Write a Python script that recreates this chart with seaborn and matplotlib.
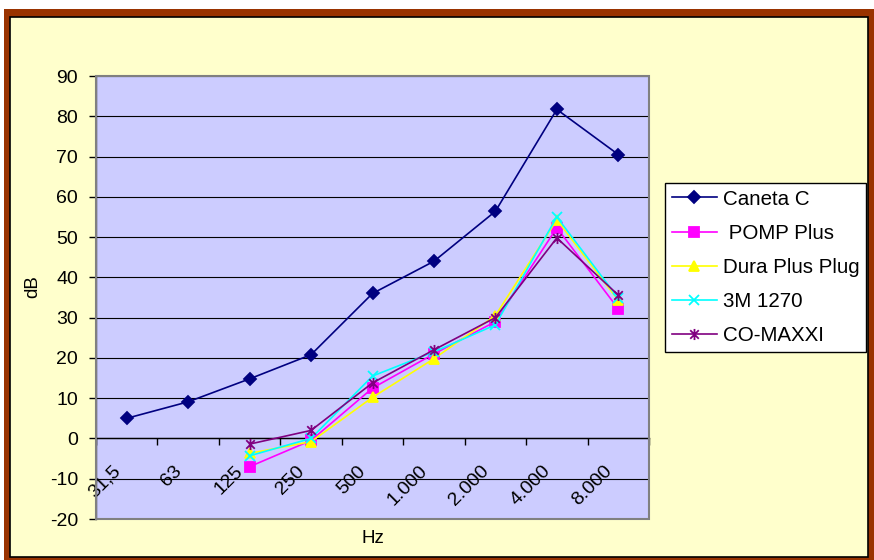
import numpy as np
import pandas as pd
import matplotlib
matplotlib.use("Agg")
import matplotlib.pyplot as plt
import seaborn as sns
from matplotlib.path import Path
from matplotlib.patches import Rectangle
from matplotlib.transforms import ScaledTranslation

# ---- data ----
categories = ['31,5', '63', '125', '250', '500', '1.000', '2.000', '4.000', '8.000']
caneta_c = [5, 9.1, 14.8, 20.8, 36, 44, 56.4, 81.7, 70.5]
pomp_plus = [np.nan, np.nan, -7, -0.5, 12.5, 21, 29, 52.3, 32.2]
dura_plus_plug = [np.nan, np.nan, -3.7, -0.8, 10.2, 19.8, 30.5, 54.3, 34.3]
m3_1270 = [np.nan, np.nan, -4.3, 0, 15.5, 21.5, 28.2, 55, 34.8]
co_maxxi = [np.nan, np.nan, -1.4, 2, 13.8, 22, 30, 49.8, 35.6]
series_names = ['Caneta C', ' POMP Plus', 'Dura Plus Plug', '3M 1270', 'CO-MAXXI']
y_ticks = list(range(-20, 100, 10))

plt.rcParams['font.family'] = ['Liberation Sans', 'DejaVu Sans']

fig = plt.figure(figsize=(8.74, 5.6), dpi=100)
W, H = 874, 560

# chart frame
fig.patches.append(Rectangle((4 / W, 0), (W - 4) / W, (H - 9) / H,
                             transform=fig.transFigure, facecolor='#993300',
                             edgecolor='none', zorder=-10))
fig.patches.append(Rectangle((9.5 / W, 3 / H), (868 - 9.5) / W, (557 - 16.5) / H,
                             transform=fig.transFigure, facecolor='#FFFFCC',
                             edgecolor='black', linewidth=1.2, zorder=-9))

ax = fig.add_axes([96 / W, 41 / H, 553 / W, 443 / H])
ax.set_facecolor('#CCCCFF')

asterisk = Path([(-1, -1), (1, 1), (-1, 1), (1, -1), (0, -1.3), (0, 1.3)],
                [Path.MOVETO, Path.LINETO, Path.MOVETO, Path.LINETO, Path.MOVETO, Path.LINETO])

styles = [
    (caneta_c, '#000080', 'D', 6.5),
    (pomp_plus, '#FF00FF', 's', 6.5),
    (dura_plus_plug, '#FFFF00', '^', 7),
    (m3_1270, '#00FFFF', 'x', 7),
    (co_maxxi, '#800080', asterisk, 8),
]
x_pos = np.arange(len(categories))
for (vals, col, mk, ms), name in zip(styles, series_names):
    df = pd.DataFrame({'x': x_pos, 'y': vals}).dropna()
    sns.lineplot(data=df, x='x', y='y', ax=ax, color=col, marker=mk, markersize=ms,
                 markeredgecolor=col, markerfacecolor=col, markeredgewidth=1.3,
                 linewidth=1.2, label=name, zorder=3)

FS = 14
ax.set_xlim(-0.5, len(categories) - 0.5)
ax.set_ylim(-20, 90)
ax.set_yticks(y_ticks)
ax.set_yticklabels([str(v) for v in y_ticks], fontsize=FS)
ax.tick_params(axis='y', direction='out', length=5, width=1, pad=8, colors='black')
ax.grid(axis='y', color='black', linewidth=0.8, zorder=1)
ax.grid(axis='x', visible=False)
ax.set_axisbelow(True)

for s in ['top', 'right']:
    ax.spines[s].set_visible(False)
ax.spines['left'].set_color('#333333')
ax.spines['left'].set_linewidth(1)
ax.spines['bottom'].set_position(('data', 0))
ax.spines['bottom'].set_color('black')
ax.spines['bottom'].set_linewidth(1)
ax.set_xticks(np.arange(-0.5, len(categories), 1.0))
ax.set_xticklabels([])
ax.tick_params(axis='x', direction='out', length=5, width=1, colors='black')

# plot-area border
ax.add_patch(Rectangle((0, 0), 1, 1, transform=ax.transAxes, fill=False,
                       edgecolor='#808080', linewidth=1.5, clip_on=False, zorder=5))

# rotated category labels
off = ScaledTranslation(-15 / 100, -24 / 100, fig.dpi_scale_trans)
for i, lab in enumerate(categories):
    ax.text(i, 0, lab, transform=ax.transData + off, rotation=45,
            rotation_mode='anchor', ha='right', va='top', fontsize=FS, color='black')

ax.set_xlabel('Hz', fontsize=13.5)
ax.xaxis.set_label_coords(0.5, -0.044)
ax.xaxis.label.set_va('center')
ax.set_ylabel('dB', fontsize=13.5)
ax.yaxis.set_label_coords(-0.115, 0.524)
ax.yaxis.label.set_va('center')

leg = ax.legend(loc='upper left', bbox_to_anchor=(665 / W, (H - 183) / H),
                bbox_transform=fig.transFigure, borderaxespad=0, fontsize=14.8,
                frameon=True, fancybox=False, shadow=False, framealpha=1,
                edgecolor='black', facecolor='white', handlelength=2.2,
                handletextpad=0.3, labelspacing=0.74, borderpad=0.32)
leg.get_frame().set_linewidth(1)

fig.savefig('out.png', dpi=100)
